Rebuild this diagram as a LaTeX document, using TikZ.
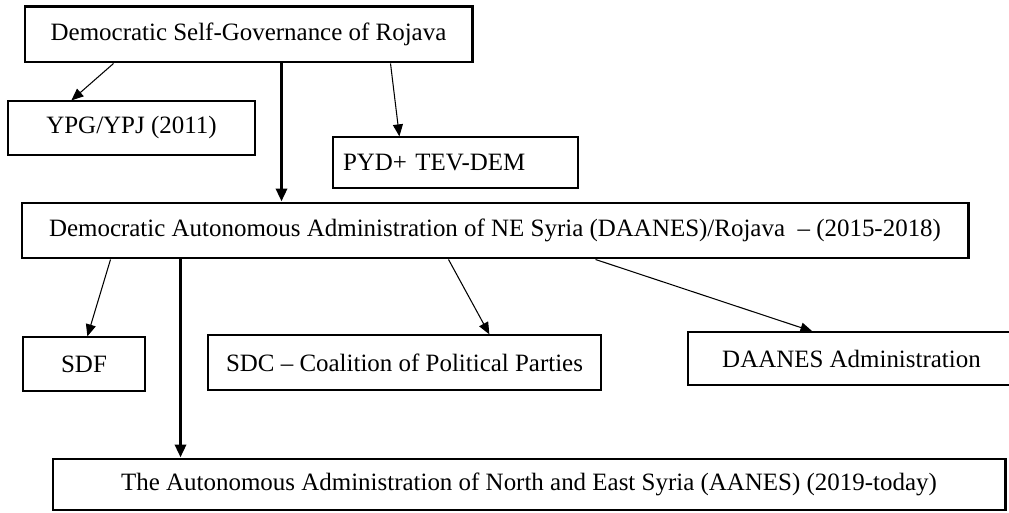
\documentclass[tikz,border=0pt]{standalone}
\usepackage{fontspec}
\setmainfont{Liberation Serif}
\usepackage{tikz}
\usetikzlibrary{arrows.meta, positioning, calc}

\begin{document}
\begin{tikzpicture}[
    orgbox/.style={draw, line width=0.7pt, inner sep=0pt, align=center, font=\fontsize{14.2}{17}\selectfont},
    mainbox/.style={orgbox, line width=1.7pt},
    link/.style={line width=0.6pt, -{Triangle[length=0.24cm, width=0.2cm]}},
    mainlink/.style={line width=2pt, -{Triangle[length=0.26cm, width=0.22cm]}}
  ]
  \useasboundingbox (0, 0) rectangle (20.18, -10.26);

  % Top level
  \node[mainbox, minimum width=8.94cm, minimum height=1.10cm] (gov) at (4.97, -0.69) {Democratic Self-Governance of Rojava};
  \node[orgbox, minimum width=4.94cm, minimum height=1.08cm] (ypg) at (2.63, -2.56) {YPG/YPJ (2011)};
  \node[orgbox, text width=4.5cm, align=left, inner xsep=0.2cm, minimum height=1.02cm] (pyd) at (9.11, -3.25) {PYD+ TEV-DEM};

  % Second level
  \node[mainbox, minimum width=18.92cm, minimum height=1.10cm] (daanes) at (9.90, -4.61) {Democratic Autonomous Administration of NE Syria (DAANES)/Rojava \ – (2015-2018)};
  \node[orgbox, minimum width=2.44cm, minimum height=1.08cm] (sdf) at (1.68, -7.28) {SDF};
  \node[orgbox, minimum width=7.86cm, minimum height=1.10cm] (sdc) at (8.09, -7.25) {SDC – Coalition of Political Parties};
  \node[orgbox, minimum width=6.54cm, minimum height=1.06cm] (admin) at (17.03, -7.17) {DAANES Administration};

  % Today
  \node[mainbox, minimum width=19.04cm, minimum height=1.02cm] (aanes) at (10.58, -9.69) {The Autonomous Administration of North and East Syria (AANES) (2019-today)};

  % Connectors
  \draw[link] ([xshift=1.80cm]gov.south west) -- ([xshift=1.28cm]ypg.north west);
  \draw[link] ([xshift=7.34cm]gov.south west) -- ([xshift=1.34cm]pyd.north west);
  \draw[mainlink] ([xshift=5.16cm]gov.south west) -- ([xshift=5.16cm]gov.south west |- daanes.north);

  \draw[link] ([xshift=1.80cm]daanes.south west) -- ([xshift=1.30cm]sdf.north west);
  \draw[link] ([xshift=8.56cm]daanes.south west) -- ([xshift=5.64cm]sdc.north west);
  \draw[link] ([xshift=11.50cm]daanes.south west) -- ([xshift=2.50cm]admin.north west);
  \draw[mainlink] ([xshift=3.20cm]daanes.south west) -- ([xshift=3.20cm]daanes.south west |- aanes.north);
\end{tikzpicture}
\end{document}
